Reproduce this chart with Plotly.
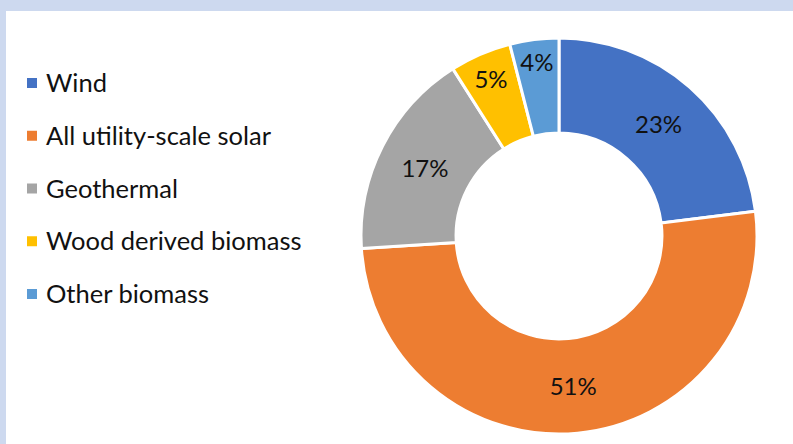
import plotly.graph_objects as go

labels = ["Wind", "All utility-scale solar", "Geothermal", "Wood derived biomass", "Other biomass"]
values = [23, 51, 17, 5, 4]
colors = ["#4472C4", "#ED7D31", "#A5A5A5", "#FFC000", "#5B9BD5"]

W, H = 793, 444
FONT = "Lato, Calibri, Carlito, sans-serif"

# donut geometry in pixels
cx, cy, r = 559, 236, 198

fig = go.Figure(go.Pie(
    labels=labels,
    values=values,
    hole=0.52,
    sort=False,
    direction="clockwise",
    rotation=0,
    marker=dict(colors=colors, line=dict(color="white", width=3)),
    texttemplate="%{percent:.0%}",
    textposition="inside",
    insidetextorientation="horizontal",
    textfont=dict(family=FONT, size=24, color="#111111"),
    showlegend=False,
    domain=dict(x=[(cx - r) / W, (cx + r) / W],
                y=[(H - cy - r) / H, (H - cy + r) / H]),
))

shapes = [dict(type="rect", xref="paper", yref="paper",
               x0=6 / W, x1=1, y0=0, y1=1 - 11 / H,
               fillcolor="white", line=dict(width=0), layer="below")]
annotations = []
y0, dy = 83, 52.75
for i, (lab, col) in enumerate(zip(labels, colors)):
    yc = y0 + i * dy
    shapes.append(dict(type="rect", xref="paper", yref="paper",
                       x0=27 / W, x1=37 / W, y0=1 - (yc + 5) / H, y1=1 - (yc - 5) / H,
                       fillcolor=col, line=dict(width=0)))
    annotations.append(dict(text=lab, xref="paper", yref="paper",
                            x=44 / W, y=1 - (yc - 1) / H, xanchor="left", yanchor="middle",
                            showarrow=False,
                            font=dict(family=FONT, size=25.5, color="#111111")))

fig.update_layout(
    width=W, height=H,
    margin=dict(l=0, r=0, t=0, b=0),
    paper_bgcolor="#CDD9EF",
    plot_bgcolor="white",
    uniformtext=dict(minsize=24, mode="show"),
    shapes=shapes,
    annotations=annotations,
)

fig.write_html("out.html", config={"displayModeBar": False},
               post_script="document.body.style.margin='0';document.body.style.overflow='hidden';")
